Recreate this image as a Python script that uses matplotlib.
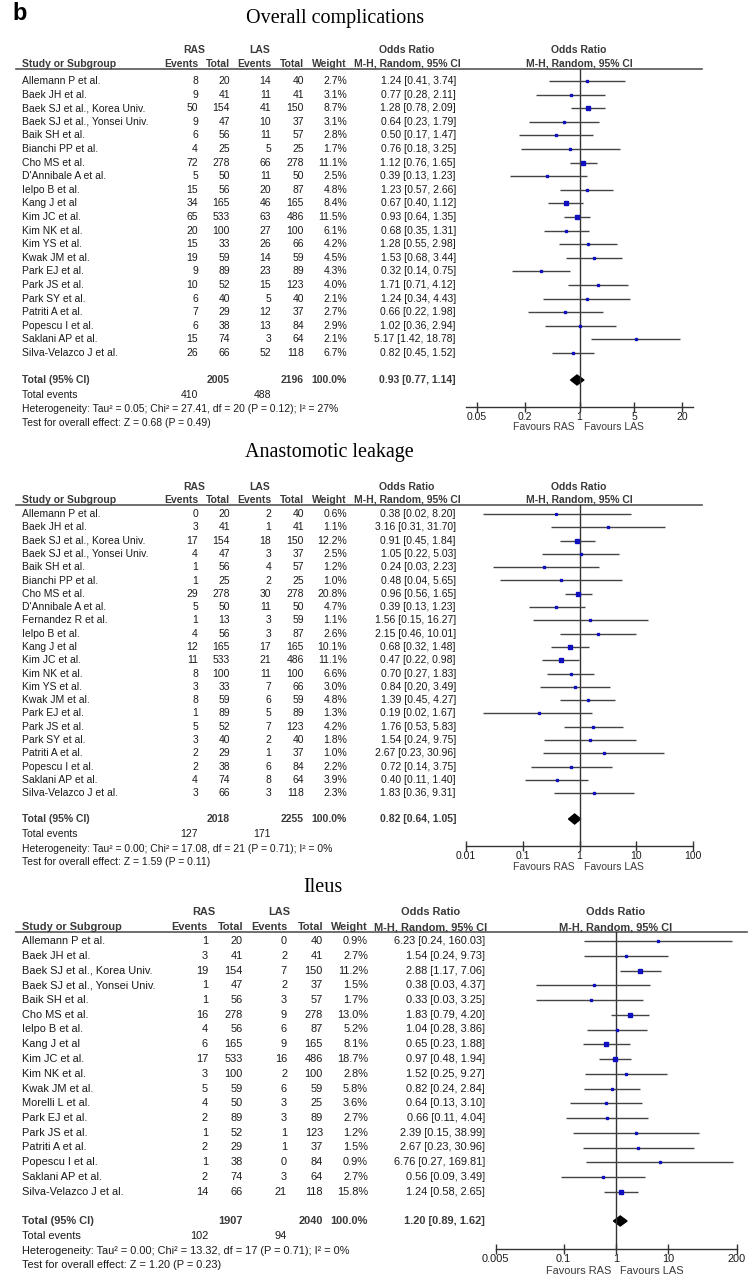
import numpy as np
import matplotlib
matplotlib.use("Agg")
import matplotlib.pyplot as plt
from matplotlib.lines import Line2D
from matplotlib.patches import Polygon

# ---------------- data ----------------
oc_studies = ["Allemann P et al.", "Baek JH et al.", "Baek SJ et al., Korea Univ.", "Baek SJ et al., Yonsei Univ.",
              "Baik SH et al.", "Bianchi PP et al.", "Cho MS et al.", "D'Annibale A et al.", "Ielpo B et al.",
              "Kang J et al", "Kim JC et al.", "Kim NK et al.", "Kim YS et al.", "Kwak JM et al.", "Park EJ et al.",
              "Park JS et al.", "Park SY et al.", "Patriti A et al.", "Popescu I et al.", "Saklani AP et al.",
              "Silva-Velazco J et al."]
oc_ras_ev = [8, 9, 50, 9, 6, 4, 72, 5, 15, 34, 65, 20, 15, 19, 9, 10, 6, 7, 6, 15, 26]
oc_ras_n = [20, 41, 154, 47, 56, 25, 278, 50, 56, 165, 533, 100, 33, 59, 89, 52, 40, 29, 38, 74, 66]
oc_las_ev = [14, 11, 41, 10, 11, 5, 66, 11, 20, 46, 63, 27, 26, 14, 23, 15, 5, 12, 13, 3, 52]
oc_las_n = [40, 41, 150, 37, 57, 25, 278, 50, 87, 165, 486, 100, 66, 59, 89, 123, 40, 37, 84, 64, 118]
oc_weight = [2.7, 3.1, 8.7, 3.1, 2.8, 1.7, 11.1, 2.5, 4.8, 8.4, 11.5, 6.1, 4.2, 4.5, 4.3, 4.0, 2.1, 2.7, 2.9, 2.1, 6.7]
oc_or = [1.24, 0.77, 1.28, 0.64, 0.50, 0.76, 1.12, 0.39, 1.23, 0.67, 0.93, 0.68, 1.28, 1.53, 0.32, 1.71, 1.24, 0.66,
         1.02, 5.17, 0.82]
oc_lo = [0.41, 0.28, 0.78, 0.23, 0.17, 0.18, 0.76, 0.13, 0.57, 0.40, 0.64, 0.35, 0.55, 0.68, 0.14, 0.71, 0.34, 0.22,
         0.36, 1.42, 0.45]
oc_hi = [3.74, 2.11, 2.09, 1.79, 1.47, 3.25, 1.65, 1.23, 2.66, 1.12, 1.35, 1.31, 2.98, 3.44, 0.75, 4.12, 4.43, 1.98,
         2.94, 18.78, 1.52]
oc_total = (2005, 2196, 410, 488, 0.93, 0.77, 1.14)
oc_het = "Heterogeneity: Tau² = 0.05; Chi² = 27.41, df = 20 (P = 0.12); I² = 27%"
oc_test = "Test for overall effect: Z = 0.68 (P = 0.49)"
oc_ticks = [0.05, 0.2, 1, 5, 20]

al_studies = ["Allemann P et al.", "Baek JH et al.", "Baek SJ et al., Korea Univ.", "Baek SJ et al., Yonsei Univ.",
              "Baik SH et al.", "Bianchi PP et al.", "Cho MS et al.", "D'Annibale A et al.", "Fernandez R et al.",
              "Ielpo B et al.", "Kang J et al", "Kim JC et al.", "Kim NK et al.", "Kim YS et al.", "Kwak JM et al.",
              "Park EJ et al.", "Park JS et al.", "Park SY et al.", "Patriti A et al.", "Popescu I et al.",
              "Saklani AP et al.", "Silva-Velazco J et al."]
al_ras_ev = [0, 3, 17, 4, 1, 1, 29, 5, 1, 4, 12, 11, 8, 3, 8, 1, 5, 3, 2, 2, 4, 3]
al_ras_n = [20, 41, 154, 47, 56, 25, 278, 50, 13, 56, 165, 533, 100, 33, 59, 89, 52, 40, 29, 38, 74, 66]
al_las_ev = [2, 1, 18, 3, 4, 2, 30, 11, 3, 3, 17, 21, 11, 7, 6, 5, 7, 2, 1, 6, 8, 3]
al_las_n = [40, 41, 150, 37, 57, 25, 278, 50, 59, 87, 165, 486, 100, 66, 59, 89, 123, 40, 37, 84, 64, 118]
al_weight = [0.6, 1.1, 12.2, 2.5, 1.2, 1.0, 20.8, 4.7, 1.1, 2.6, 10.1, 11.1, 6.6, 3.0, 4.8, 1.3, 4.2, 1.8, 1.0, 2.2,
             3.9, 2.3]
al_or = [0.38, 3.16, 0.91, 1.05, 0.24, 0.48, 0.96, 0.39, 1.56, 2.15, 0.68, 0.47, 0.70, 0.84, 1.39, 0.19, 1.76, 1.54,
         2.67, 0.72, 0.40, 1.83]
al_lo = [0.02, 0.31, 0.45, 0.22, 0.03, 0.04, 0.56, 0.13, 0.15, 0.46, 0.32, 0.22, 0.27, 0.20, 0.45, 0.02, 0.53, 0.24,
         0.23, 0.14, 0.11, 0.36]
al_hi = [8.20, 31.70, 1.84, 5.03, 2.23, 5.65, 1.65, 1.23, 16.27, 10.01, 1.48, 0.98, 1.83, 3.49, 4.27, 1.67, 5.83, 9.75,
         30.96, 3.75, 1.40, 9.31]
al_total = (2018, 2255, 127, 171, 0.82, 0.64, 1.05)
al_het = "Heterogeneity: Tau² = 0.00; Chi² = 17.08, df = 21 (P = 0.71); I² = 0%"
al_test = "Test for overall effect: Z = 1.59 (P = 0.11)"
al_ticks = [0.01, 0.1, 1, 10, 100]

il_studies = ["Allemann P et al.", "Baek JH et al.", "Baek SJ et al., Korea Univ.", "Baek SJ et al., Yonsei Univ.",
              "Baik SH et al.", "Cho MS et al.", "Ielpo B et al.", "Kang J et al", "Kim JC et al.", "Kim NK et al.",
              "Kwak JM et al.", "Morelli L et al.", "Park EJ et al.", "Park JS et al.", "Patriti A et al.",
              "Popescu I et al.", "Saklani AP et al.", "Silva-Velazco J et al."]
il_ras_ev = [1, 3, 19, 1, 1, 16, 4, 6, 17, 3, 5, 4, 2, 1, 2, 1, 2, 14]
il_ras_n = [20, 41, 154, 47, 56, 278, 56, 165, 533, 100, 59, 50, 89, 52, 29, 38, 74, 66]
il_las_ev = [0, 2, 7, 2, 3, 9, 6, 9, 16, 2, 6, 3, 3, 1, 1, 0, 3, 21]
il_las_n = [40, 41, 150, 37, 57, 278, 87, 165, 486, 100, 59, 25, 89, 123, 37, 84, 64, 118]
il_weight = [0.9, 2.7, 11.2, 1.5, 1.7, 13.0, 5.2, 8.1, 18.7, 2.8, 5.8, 3.6, 2.7, 1.2, 1.5, 0.9, 2.7, 15.8]
il_or = [6.23, 1.54, 2.88, 0.38, 0.33, 1.83, 1.04, 0.65, 0.97, 1.52, 0.82, 0.64, 0.66, 2.39, 2.67, 6.76, 0.56, 1.24]
il_lo = [0.24, 0.24, 1.17, 0.03, 0.03, 0.79, 0.28, 0.23, 0.48, 0.25, 0.24, 0.13, 0.11, 0.15, 0.23, 0.27, 0.09, 0.58]
il_hi = [160.03, 9.73, 7.06, 4.37, 3.25, 4.20, 3.86, 1.88, 1.94, 9.27, 2.84, 3.10, 4.04, 38.99, 30.96, 169.81, 3.49,
         2.65]
il_total = (1907, 2040, 102, 94, 1.20, 0.89, 1.62)
il_het = "Heterogeneity: Tau² = 0.00; Chi² = 13.32, df = 17 (P = 0.71); I² = 0%"
il_test = "Test for overall effect: Z = 1.20 (P = 0.23)"
il_ticks = [0.005, 0.1, 1, 10, 200]

W, H = 756, 1285
fig = plt.figure(figsize=(W / 100, H / 100), dpi=100)
plt.rcParams["font.family"] = ["Liberation Sans", "DejaVu Sans"]

# overlay axes in pixel coords for the table text
bg = fig.add_axes([0, 0, 1, 1])
bg.set_xlim(0, W)
bg.set_ylim(H, 0)
bg.axis("off")

TXT = "#1a1a1a"
HDR = "#3a3a3a"


def fmt_or(o, l, h):
    return f"{o:.2f} [{l:.2f}, {h:.2f}]"


def draw_panel(title, title_x, title_y, studies, ras_ev, ras_n, las_ev, las_n, weight, ors, los, his, total,
               het, test, ticks, lay):
    fs = lay["fs"]
    cols = lay["cols"]
    bg.text(title_x, title_y, title, family="Liberation Serif", fontsize=14.5, va="center", ha="left", color="black")

    # header
    hy1, hy2 = lay["hdr"]
    bg.text(cols["ras_c"], hy1, "RAS", fontsize=fs, weight="bold", ha="center", va="center", color=HDR)
    bg.text(cols["las_c"], hy1, "LAS", fontsize=fs, weight="bold", ha="center", va="center", color=HDR)
    bg.text(cols["or_hc"], hy1, "Odds Ratio", fontsize=fs, weight="bold", ha="center", va="center", color=HDR)
    bg.text(cols["fp_c"], hy1, "Odds Ratio", fontsize=fs, weight="bold", ha="center", va="center", color=HDR)
    bg.text(cols["study"], hy2, "Study or Subgroup", fontsize=fs, weight="bold", ha="left", va="center", color=HDR)
    for key, lab in [("re", "Events"), ("rn", "Total"), ("le", "Events"), ("ln", "Total"), ("w", "Weight")]:
        bg.text(cols[key], hy2, lab, fontsize=fs, weight="bold", ha="right", va="center", color=HDR)
    bg.text(cols["or_hc"], hy2, "M-H, Random, 95% CI", fontsize=fs, weight="bold", ha="center", va="center",
            color=HDR)
    bg.text(cols["fp_c"], hy2, "M-H, Random, 95% CI", fontsize=fs, weight="bold", ha="center", va="center",
            color=HDR)
    bg.add_line(Line2D([lay["line_x0"], lay["line_x1"]], [lay["line_y"]] * 2, color="#555555", lw=1.2))

    y0, rh = lay["row0"], lay["rowh"]
    for i, s in enumerate(studies):
        y = y0 + i * rh
        bg.text(cols["study"], y, s, fontsize=fs, ha="left", va="center", color=TXT)
        bg.text(cols["re"], y, str(ras_ev[i]), fontsize=fs, ha="right", va="center", color=TXT)
        bg.text(cols["rn"], y, str(ras_n[i]), fontsize=fs, ha="right", va="center", color=TXT)
        bg.text(cols["le"], y, str(las_ev[i]), fontsize=fs, ha="right", va="center", color=TXT)
        bg.text(cols["ln"], y, str(las_n[i]), fontsize=fs, ha="right", va="center", color=TXT)
        bg.text(cols["w"], y, f"{weight[i]:.1f}%", fontsize=fs, ha="right", va="center", color=TXT)
        bg.text(cols["or"], y, fmt_or(ors[i], los[i], his[i]), fontsize=fs, ha="right", va="center", color=TXT)

    ty, ey, hty, tsy = lay["tot"], lay["ev"], lay["het"], lay["test"]
    rn_t, ln_t, re_t, le_t, o_t, l_t, h_t = total
    bg.text(cols["study"], ty, "Total (95% CI)", fontsize=fs, weight="bold", ha="left", va="center", color=HDR)
    bg.text(cols["rn"], ty, str(rn_t), fontsize=fs, weight="bold", ha="right", va="center", color=HDR)
    bg.text(cols["ln"], ty, str(ln_t), fontsize=fs, weight="bold", ha="right", va="center", color=HDR)
    bg.text(cols["w"], ty, "100.0%", fontsize=fs, weight="bold", ha="right", va="center", color=HDR)
    bg.text(cols["or"], ty, fmt_or(o_t, l_t, h_t), fontsize=fs, weight="bold", ha="right", va="center", color=HDR)
    bg.text(cols["study"], ey, "Total events", fontsize=fs, ha="left", va="center", color=TXT)
    bg.text(cols["re"], ey, str(re_t), fontsize=fs, ha="right", va="center", color=TXT)
    bg.text(cols["le"], ey, str(le_t), fontsize=fs, ha="right", va="center", color=TXT)
    bg.text(cols["study"], hty, het, fontsize=fs, ha="left", va="center", color=TXT)
    bg.text(cols["study"], tsy, test, fontsize=fs, ha="left", va="center", color=TXT)

    # forest axes: y in pixel units of the figure, x log
    fx0, fx1 = lay["fx"]
    top, bot = lay["line_y"], lay["axis_y"]
    ax = fig.add_axes([fx0 / W, 1 - bot / H, (fx1 - fx0) / W, (bot - top) / H])
    ax.set_xscale("log")
    ax.set_xlim(*lay["xlim"])
    ax.set_ylim(bot, top)
    ax.patch.set_alpha(0)
    for sp in ["top", "left", "right"]:
        ax.spines[sp].set_visible(False)
    ax.spines["bottom"].set_color("#333333")
    ax.spines["bottom"].set_linewidth(1.0)
    ax.set_yticks([])
    ax.set_xticks(ticks)
    ax.set_xticklabels([f"{t:g}" for t in ticks], fontsize=fs, color=TXT)
    ax.minorticks_off()
    ax.tick_params(axis="x", direction="inout", length=7, width=1, color="#333333", pad=0)
    ax.axvline(1, color="#333333", lw=1.0)

    ys = [y0 + i * rh for i in range(len(studies))]
    ax.hlines(ys, los, his, color="#444444", lw=1.0)
    for o, y, w in zip(ors, ys, weight):
        side = 1.4 + 0.6 * np.sqrt(w)
        ax.plot(o, y, marker="s", ms=side * 0.72, color="#1010c0", mec="#1010c0", lw=0)

    dh = 5.0
    diamond = Polygon([[l_t, ty], [o_t, ty - dh], [h_t, ty], [o_t, ty + dh]], closed=True, color="black")
    ax.add_patch(diamond)

    fav_y = lay["fav"]
    vx = lay["vx"]
    bg.text(vx - 5, fav_y, "Favours RAS", fontsize=fs, ha="right", va="center", color=HDR)
    bg.text(vx + 4, fav_y, "Favours LAS", fontsize=fs, ha="left", va="center", color=HDR)


bg.text(12, 14, "b", fontsize=17, weight="bold", ha="left", va="center", color="black")

cols12 = dict(study=22, re=198, rn=230, le=271, ln=304, w=347, or_=456, ras_c=194, las_c=260, or_hc=407, fp_c=579)
cols12["or"] = cols12.pop("or_")
lay1 = dict(fs=7.5, cols=cols12, hdr=(50, 64), line_y=69, line_x0=16, line_x1=702, row0=81, rowh=13.6,
            tot=380, ev=395, het=409, test=423, axis_y=407, fav=427, fx=(466, 693),
            xlim=(1 / 27.7, 27.7), vx=579.5)
lay2 = dict(fs=7.5, cols=cols12, hdr=(487, 500), line_y=505, line_x0=16, line_x1=702, row0=514, rowh=13.3,
            tot=819, ev=834, het=849, test=862, axis_y=846, fav=867, fx=(466, 693),
            xlim=(0.01, 100), vx=579.5)
cols3 = dict(study=22, re=208, rn=243, le=287, ln=323, w=368, ras_c=204, las_c=279, or_hc=431, fp_c=616)
cols3["or"] = 485
lay3 = dict(fs=7.9, cols=cols3, hdr=(912, 927), line_y=932, line_x0=16, line_x1=747, row0=941, rowh=14.75,
            tot=1221, ev=1236, het=1251, test=1265, axis_y=1249, fav=1271, fx=(495.6, 736.6),
            xlim=(0.005, 200), vx=616)

draw_panel("Overall complications", 246, 18, oc_studies, oc_ras_ev, oc_ras_n, oc_las_ev, oc_las_n, oc_weight,
           oc_or, oc_lo, oc_hi, oc_total, oc_het, oc_test, oc_ticks, lay1)
draw_panel("Anastomotic leakage", 245, 453, al_studies, al_ras_ev, al_ras_n, al_las_ev, al_las_n, al_weight,
           al_or, al_lo, al_hi, al_total, al_het, al_test, al_ticks, lay2)
draw_panel("Ileus", 303, 888, il_studies, il_ras_ev, il_ras_n, il_las_ev, il_las_n, il_weight,
           il_or, il_lo, il_hi, il_total, il_het, il_test, il_ticks, lay3)

fig.savefig("out.png", dpi=100, facecolor="white")
